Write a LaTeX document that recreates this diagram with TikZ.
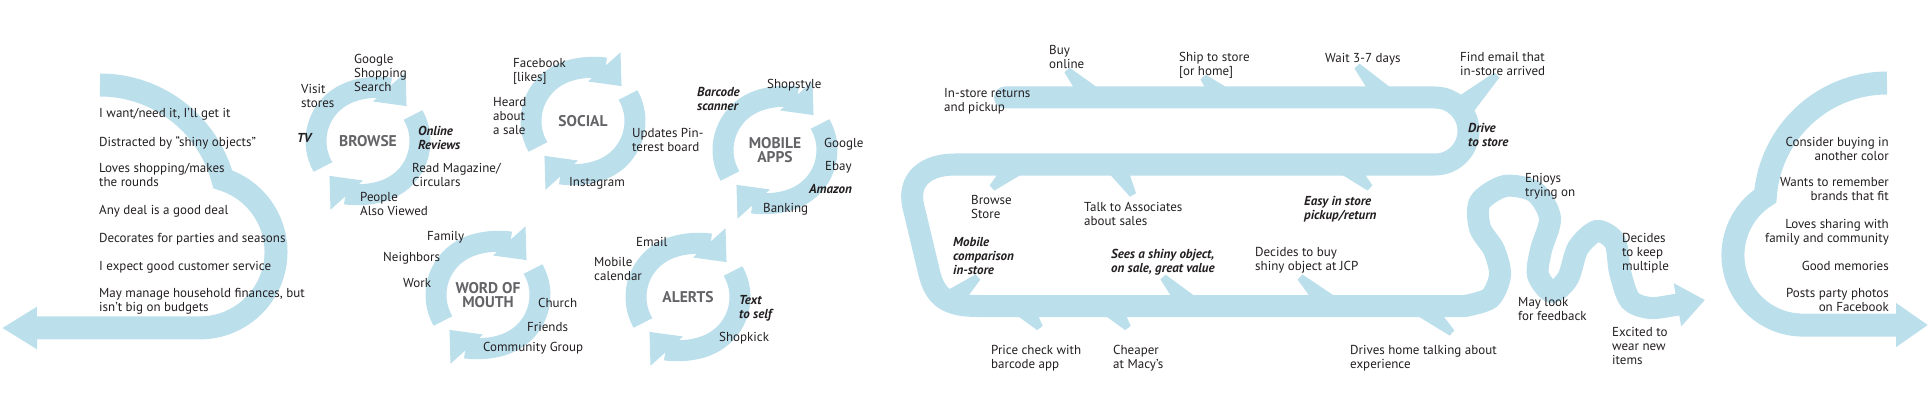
\documentclass[tikz,border=0pt]{standalone}
\usepackage{fontspec}
\setmainfont{PT Sans}
\usetikzlibrary{arrows.meta}
\usetikzlibrary{calc}
\definecolor{lblue}{RGB}{188,223,236}
\definecolor{dgray}{RGB}{35,31,32}
\definecolor{tgray}{RGB}{100,100,104}
\tikzset{band/.style = {draw=lblue, line width=22pt}}
\tikzset{ring/.style = {draw=lblue, line width=21pt, -{Triangle[width=42pt, length=26pt]}}}
\tikzset{lbl/.style = {anchor=north west, inner sep=0, align=left, text=dgray, font=\fontsize{13}{14}\selectfont}}
\tikzset{blbl/.style = {lbl, font=\fontsize{13}{14}\selectfont\bfseries\itshape}}
\tikzset{rlbl/.style = {lbl, anchor=north east, align=right}}
\tikzset{cyctitle/.style = {inner sep=0, align=center, text=tgray, font=\fontsize{15.5}{14}\selectfont\bfseries}}
\newcommand{\spur}[2]{\fill[lblue] ($(#1)!3.5pt!90:(#2)$) -- ($(#1)!3.5pt!-90:(#2)$) -- ($(#2)!11pt!90:(#1)$) -- ($(#2)!11pt!-90:(#1)$) -- cycle;}

\begin{document}
\begin{tikzpicture}[x=1pt, y=-1pt]

      \useasboundingbox (0, 0) rectangle (1930, 401);

      \draw [band, line width=23pt, -{Triangle[width=40pt, length=35pt]}] (100, 85) arc [start angle=-90, end angle=-14.9, radius=127] arc [start angle=-72.6, end angle=90, radius=76] -- (2, 328);
      \draw [band, line width=23pt, -{Triangle[width=42pt, length=32pt]}] (1887, 83) arc [start angle=270, end angle=184.2, radius=122] arc [start angle=237.5, end angle=90, radius=70] -- (1928, 325);

      \coordinate (browse) at (368, 141);
      \coordinate (social) at (583, 121);
      \coordinate (apps) at (775, 150);
      \coordinate (word) at (488, 295);
      \coordinate (alerts) at (688, 297);
      \foreach \c in {browse, social, apps, word, alerts} {
        \draw [ring] ([shift={(150:52)}]\c) arc [start angle=150, end angle=318, radius=52];
        \draw [ring] ([shift={(330:52)}]\c) arc [start angle=330, end angle=498, radius=52];
      }

      \draw [band, line cap=round, -{Triangle[width=42pt, length=28pt]}] (1005, 97.5) -- (1435, 97.5) arc [start angle=-90, end angle=90, radius=33.5] -- (955, 164.5) .. controls (925, 164.5) and (908, 180) .. (913, 205) -- (929, 272) .. controls (935, 298) and (948, 306) .. (978, 306) -- (1465, 306) -- plot [smooth] coordinates {(1465, 306) (1490, 298) (1500, 275) (1494, 250) (1480, 228) (1480, 202) (1505, 186) (1535, 192) (1550, 218) (1541, 250) (1538, 275) (1552, 292) (1568, 278) (1578, 248) (1597, 231) (1615, 242) (1620, 272) (1630, 300) (1650, 308) (1675, 305) (1705, 300)};

      \spur{1067, 70}{1092, 97}
      \spur{1203, 77}{1222, 97}
      \spur{1357, 66}{1385, 97}
      \spur{1497, 75}{1465, 105}
      \spur{992, 188}{1018, 164}
      \spur{1133, 195}{1115, 164}
      \spur{1370, 188}{1345, 164}
      \spur{978, 277}{952, 300}
      \spur{1163, 277}{1190, 306}
      \spur{1300, 277}{1330, 306}
      \spur{1040, 328}{1022, 306}
      \spur{1128, 328}{1110, 306}
      \spur{1452, 333}{1422, 306}

      \node [cyctitle] (browset) at (browse) {BROWSE};
      \node [cyctitle] (socialt) at (social) {SOCIAL};
      \node [cyctitle] (appst) at (apps) {MOBILE\\APPS};
      \node [cyctitle] (wordt) at (word) {WORD OF\\MOUTH};
      \node [cyctitle] (alertst) at (alerts) {ALERTS};

      \node [lbl] (want) at (99, 108) {I want/need it, I’ll get it};
      \node [lbl] (shiny) at (99, 136) {Distracted by “shiny objects”};
      \node [lbl] (rounds) at (99, 163) {Loves shopping/makes\\the rounds};
      \node [lbl] (deal) at (99, 205) {Any deal is a good deal};
      \node [lbl] (decorates) at (99, 233) {Decorates for parties and seasons};
      \node [lbl] (service) at (99, 261) {I expect good customer service};
      \node [lbl] (budgets) at (99, 288) {May manage household finances, but\\isn’t big on budgets};

      \node [lbl] (visit) at (301, 84) {Visit\\stores};
      \node [lbl] (google) at (354, 54) {Google\\Shopping\\Search};
      \node [blbl] (tv) at (297, 133) {TV};
      \node [blbl] (online) at (418, 126) {Online\\Reviews};
      \node [lbl] (magazine) at (412, 163) {Read Magazine/\\Circulars};
      \node [lbl] (people) at (360, 192) {People\\Also Viewed};
      \node [lbl] (facebook) at (513, 58) {Facebook\\{[}likes{]}};
      \node [lbl] (heard) at (493, 97) {Heard\\about\\a sale};
      \node [lbl] (instagram) at (569, 177) {Instagram};
      \node [lbl] (pinterest) at (632, 128) {Updates Pin-\\terest board};
      \node [blbl] (barcode) at (697, 87) {Barcode\\scanner};
      \node [lbl] (shopstyle) at (767, 79) {Shopstyle};
      \node [lbl] (googleapp) at (824, 138) {Google};
      \node [lbl] (ebay) at (825, 161) {Ebay};
      \node [blbl] (amazon) at (809, 184) {Amazon};
      \node [lbl] (banking) at (763, 203) {Banking};
      \node [lbl] (family) at (427, 231) {Family};
      \node [lbl] (neighbors) at (383, 252) {Neighbors};
      \node [lbl] (work) at (403, 278) {Work};
      \node [lbl] (church) at (538, 298) {Church};
      \node [lbl] (friends) at (527, 322) {Friends};
      \node [lbl] (community) at (483, 342) {Community Group};
      \node [lbl] (email) at (636, 237) {Email};
      \node [lbl] (calendar) at (594, 257) {Mobile\\calendar};
      \node [blbl] (textself) at (739, 295) {Text\\to self};
      \node [lbl] (shopkick) at (719, 332) {Shopkick};

      \node [lbl] (buy) at (1049, 45) {Buy\\online};
      \node [lbl] (ship) at (1179, 52) {Ship to store\\{[}or home{]}};
      \node [lbl] (wait) at (1325, 53) {Wait 3-7 days};
      \node [lbl] (findemail) at (1460, 52) {Find email that\\in-store arrived};
      \node [lbl] (returns) at (944, 88) {In-store returns\\and pickup};
      \node [blbl] (drive) at (1468, 123) {Drive\\to store};
      \node [lbl] (browsestore) at (971, 195) {Browse\\Store};
      \node [lbl] (talk) at (1084, 202) {Talk to Associates\\about sales};
      \node [blbl] (easy) at (1304, 196) {Easy in store\\pickup/return};
      \node [blbl] (comparison) at (953, 237) {Mobile\\comparison\\in-store};
      \node [blbl] (sees) at (1111, 249) {Sees a shiny object,\\on sale, great value};
      \node [lbl] (decides) at (1255, 247) {Decides to buy\\shiny object at JCP};
      \node [lbl] (price) at (991, 345) {Price check with\\barcode app};
      \node [lbl] (cheaper) at (1113, 345) {Cheaper\\at Macy’s};
      \node [lbl] (drives) at (1350, 345) {Drives home talking about\\experience};
      \node [lbl] (enjoys) at (1525, 173) {Enjoys\\trying on};
      \node [lbl] (feedback) at (1518, 297) {May look\\for feedback};
      \node [lbl] (keep) at (1622, 233) {Decides\\to keep\\multiple};
      \node [lbl] (excited) at (1612, 327) {Excited to\\wear new\\items};

      \node [rlbl] (color) at (1889, 137) {Consider buying in\\another color};
      \node [rlbl] (brands) at (1889, 177) {Wants to remember\\brands that fit};
      \node [rlbl] (sharing) at (1889, 219) {Loves sharing with\\family and community};
      \node [rlbl] (memories) at (1889, 261) {Good memories};
      \node [rlbl] (posts) at (1889, 288) {Posts party photos\\on Facebook};

    \end{tikzpicture}
\end{document}
